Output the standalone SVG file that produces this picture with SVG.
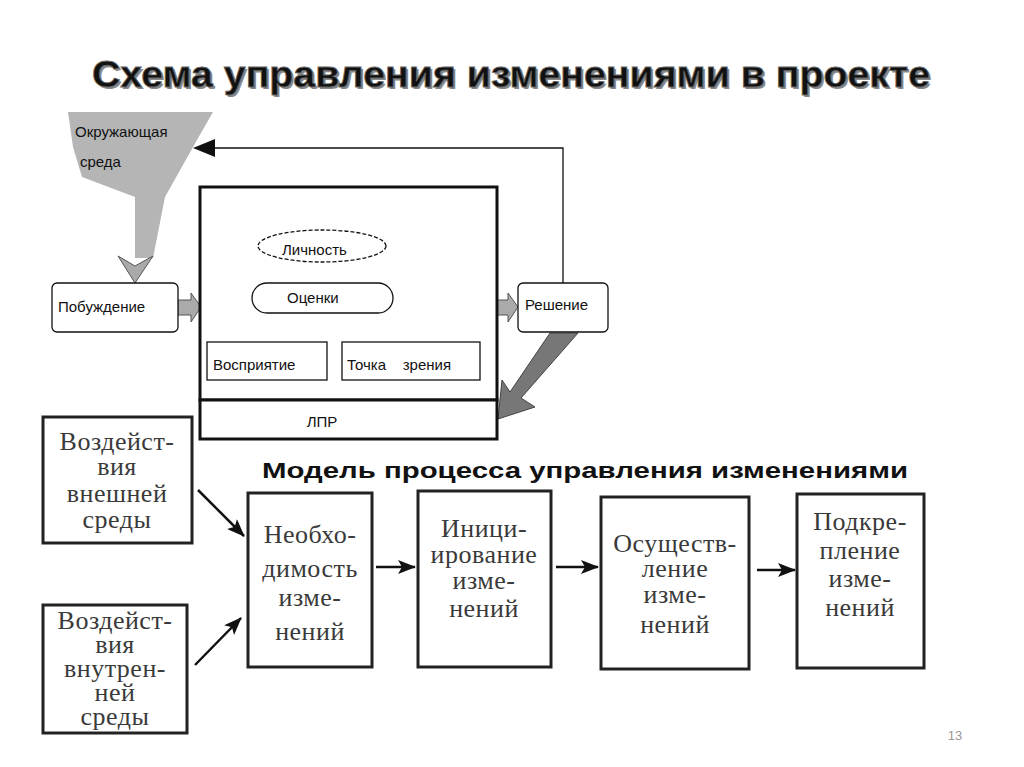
<svg xmlns="http://www.w3.org/2000/svg" xmlns:xlink="http://www.w3.org/1999/xlink" width="1024" height="767" viewBox="0 0 1024 767">
<style>
.sans{font-family:"Liberation Sans",Arial,sans-serif;fill:#111;font-size:15px}
.ser{font-family:"Liberation Serif","Times New Roman",serif;fill:#3a3a3a;font-size:26px;text-anchor:middle;letter-spacing:0.5px}
.box{fill:#fff;stroke:#111;stroke-width:1.3}
.bbox{fill:#fff;stroke:#111;stroke-width:3}
.lbox{fill:#fff;stroke:#222;stroke-width:3}
.garr{fill:#aaa;stroke:#555;stroke-width:1}
.darr{fill:#777;stroke:#444;stroke-width:1}
.ln{stroke:#111;stroke-width:2.5;fill:none}
</style>
<defs>
<marker id="ahb" viewBox="0 0 18 14" refX="17" refY="7" markerWidth="18" markerHeight="14" markerUnits="userSpaceOnUse" orient="auto">
<path d="M0,0 L18,7 L0,14 L4,7 z" fill="#111"/>
</marker>
<path id="blk" d="M0,-6 L21,-6 L21,-11 L36,0 L21,11 L21,6 L0,6 z"/>
</defs>
<rect width="1024" height="767" fill="#fff"/>

<g id="title">
<text x="94" y="89" font-family="'Liberation Sans',Arial,sans-serif" font-weight="bold" font-size="36" textLength="838" lengthAdjust="spacingAndGlyphs" fill="#888">Схема управления изменениями в проекте</text>
<text x="92" y="87" font-family="'Liberation Sans',Arial,sans-serif" font-weight="bold" font-size="36" textLength="838" lengthAdjust="spacingAndGlyphs" fill="#111" stroke="#666" stroke-width="0.8">Схема управления изменениями в проекте</text>
</g>

<g id="env">
<polygon points="68,112 213,112 193,147 165,197 153,258 135,258 135,197 82,177 73,147" fill="#b5b5b5"/>
<polygon points="118,256 135,266 153,256 135,283" class="garr"/>
<text x="75" y="137" class="sans" font-size="14">Окружающая</text>
<text x="80" y="167" class="sans" font-size="14">среда</text>
</g>

<g id="connectors">
<polyline points="563,283 563,148 214,148" fill="none" stroke="#111" stroke-width="1.3"/>
<polygon points="193,148 215,139 215,157" fill="#111"/>
<polygon points="178,300 191,300 191,293 201,307 191,322 191,315 178,315" class="garr"/>
<polygon points="497,300 508,300 508,293 518,307 508,322 508,315 497,315" class="garr"/>
<polygon points="316,263 326,263 321,280" fill="#aaa"/>
<use xlink:href="#blk" class="darr" transform="translate(273,343) rotate(-50.6)"/>
<use xlink:href="#blk" class="darr" transform="translate(381,343) rotate(-129.4)"/>
<polygon points="550,333 578,333 521,398 535,407 498,419 502,380 510,392" class="darr"/>
<line x1="198" y1="490" x2="244" y2="536" class="ln" marker-end="url(#ahb)"/>
<line x1="195" y1="665" x2="241" y2="618" class="ln" marker-end="url(#ahb)"/>
<line x1="376" y1="567" x2="415" y2="567" class="ln" marker-end="url(#ahb)"/>
<line x1="556" y1="567" x2="598" y2="567" class="ln" marker-end="url(#ahb)"/>
<line x1="757" y1="570" x2="795" y2="570" class="ln" marker-end="url(#ahb)"/>
</g>

<g id="pobuzhdenie">
<rect x="52" y="283" width="126" height="49" rx="5" class="box"/>
<text x="58" y="312" class="sans">Побуждение</text>
</g>

<g id="lpr-frame">
<rect x="200" y="187" width="297" height="213" class="bbox"/>
</g>

<g id="lichnost">
<ellipse cx="322" cy="246" rx="64" ry="16" fill="#fff" stroke="#111" stroke-width="1.3" stroke-dasharray="4,2"/>
<text x="282" y="255" class="sans" font-size="14">Личность</text>
</g>

<g id="ocenki">
<rect x="252" y="283" width="141" height="30" rx="15" class="box"/>
<text x="287" y="303" class="sans" font-size="14">Оценки</text>
</g>

<g id="vospriyatie">
<rect x="207" y="342" width="120" height="38" class="box"/>
<text x="213" y="370" class="sans" font-size="14">Восприятие</text>
</g>

<g id="tochka">
<rect x="342" y="342" width="138" height="38" class="box"/>
<text x="347" y="370" class="sans" font-size="14" xml:space="preserve">Точка    зрения</text>
</g>

<g id="lpr">
<rect x="200" y="400" width="297" height="39" class="bbox"/>
<text x="322" y="427" class="sans" font-size="14" text-anchor="middle">ЛПР</text>
</g>

<g id="reshenie">
<rect x="518" y="283" width="90" height="49" rx="5" class="box"/>
<text x="525" y="310" class="sans">Решение</text>
</g>

<g id="subtitle">
<text x="262" y="478" font-family="'Liberation Sans',Arial,sans-serif" font-weight="bold" font-size="22" textLength="646" lengthAdjust="spacingAndGlyphs" fill="#111">Модель процесса управления изменениями</text>
</g>

<g id="vneshn">
<rect x="43" y="417" width="149" height="126" class="lbox"/>
<text class="ser" font-size="25"><tspan x="117" y="450">Воздейст-</tspan><tspan x="117" y="475">вия</tspan><tspan x="117" y="502">внешней</tspan><tspan x="117" y="528">среды</tspan></text>
</g>

<g id="vnutr">
<rect x="43" y="605" width="144" height="128" class="lbox"/>
<text class="ser" font-size="22"><tspan x="115" y="629">Воздейст-</tspan><tspan x="115" y="653">вия</tspan><tspan x="115" y="677">внутрен-</tspan><tspan x="115" y="701">ней</tspan><tspan x="115" y="725">среды</tspan></text>
</g>

<g id="neobh">
<rect x="248" y="493" width="124" height="174" class="lbox"/>
<text class="ser"><tspan x="310" y="543">Необхо-</tspan><tspan x="310" y="577">димость</tspan><tspan x="310" y="606">изме-</tspan><tspan x="310" y="640">нений</tspan></text>
</g>

<g id="inic">
<rect x="418" y="491" width="133" height="176" class="lbox"/>
<text class="ser"><tspan x="484" y="537">Иници-</tspan><tspan x="484" y="563">ирование</tspan><tspan x="484" y="589">изме-</tspan><tspan x="484" y="617">нений</tspan></text>
</g>

<g id="osush">
<rect x="601" y="497" width="148" height="172" class="lbox"/>
<text class="ser"><tspan x="675" y="552">Осуществ-</tspan><tspan x="675" y="577">ление</tspan><tspan x="675" y="603">изме-</tspan><tspan x="675" y="633">нений</tspan></text>
</g>

<g id="podkr">
<rect x="797" y="494" width="127" height="174" class="lbox"/>
<text class="ser"><tspan x="860" y="530">Подкре-</tspan><tspan x="860" y="559">пление</tspan><tspan x="860" y="587">изме-</tspan><tspan x="860" y="616">нений</tspan></text>
</g>

<text x="955" y="740" font-family="'Liberation Sans',Arial,sans-serif" font-size="13" fill="#999" text-anchor="middle">13</text>
</svg>
